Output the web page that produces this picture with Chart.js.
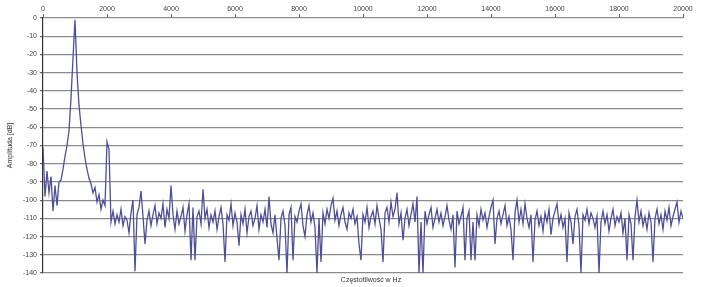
<!DOCTYPE html>
<html>
<head>
<meta charset="utf-8">
<script src="https://cdn.jsdelivr.net/npm/chart.js@4/dist/chart.umd.min.js"></script>
<style>
  html, body { margin: 0; padding: 0; background: #fff; }
  #wrap { width: 705px; height: 287px; }
</style>
</head>
<body>
<div id="wrap"><canvas id="spectrum"></canvas></div>
<script>
// FFT bins, 62.5 Hz apart, 0 .. 20000 Hz
const binWidth = 62.5;
const amplitudes = [
  -71, -98, -84, -96, -87, -106, -92, -103, -90, -89,
  -83, -76, -70, -62, -44, -22, -1, -30, -48, -59,
  -69, -77, -83, -88, -91, -96, -93, -101, -97, -105,
  -100, -103, -68, -72, -112, -106, -113, -108, -112, -105,
  -114, -109, -111, -118, -107, -100, -139, -108, -104, -95,
  -109, -124, -111, -106, -114, -108, -103, -113, -107, -110,
  -102, -115, -105, -110, -92, -108, -116, -106, -113, -109,
  -104, -117, -108, -102, -133, -104, -133, -109, -106, -113,
  -94, -110, -105, -115, -108, -112, -106, -116, -109, -104,
  -113, -134, -108, -111, -102, -114, -107, -112, -125, -108,
  -113, -105, -118, -109, -106, -114, -110, -103, -116, -108,
  -112, -105, -115, -98, -113, -118, -108, -121, -133, -110,
  -106, -114, -140, -108, -104, -133, -109, -112, -106, -102,
  -114, -120, -108, -103, -112, -107, -115, -140, -110, -134,
  -107, -113, -105, -110, -103, -99, -111, -106, -114, -108,
  -104, -112, -116, -107, -110, -105, -113, -109, -124, -133,
  -108, -112, -104, -115, -109, -106, -113, -103, -110, -116,
  -134, -107, -104, -112, -101, -109, -105, -96, -113, -107,
  -122, -110, -105, -114, -108, -102, -112, -98, -140, -112,
  -140, -106, -113, -108, -104, -115, -110, -105, -112, -107,
  -114, -109, -103, -111, -116, -108, -137, -106, -113, -109,
  -104, -133, -110, -106, -133, -112, -133, -108, -114, -105,
  -111, -107, -115, -109, -104, -100, -124, -110, -106, -113,
  -108, -103, -114, -109, -116, -133, -107, -100, -112, -105,
  -113, -102, -110, -115, -108, -134, -111, -106, -114, -109,
  -117, -107, -112, -105, -119, -110, -106, -102, -113, -108,
  -115, -110, -134, -107, -112, -124, -109, -105, -114, -140,
  -108, -111, -105, -113, -107, -110, -115, -109, -140, -112,
  -106, -113, -108, -117, -110, -105, -114, -109, -112, -107,
  -118, -110, -133, -108, -113, -133, -109, -100, -112, -106,
  -114, -109, -116, -107, -112, -134, -110, -105, -113, -108,
  -116, -106, -111, -104, -114, -109, -105, -101, -112, -106,
  -110
];
const freqTicks = [0, 2000, 4000, 6000, 8000, 10000, 12000, 14000, 16000, 18000, 20000];
const dbTicks = [0, -10, -20, -30, -40, -50, -60, -70, -80, -90, -100, -110, -120, -130, -140];

const points = amplitudes.map((a, i) => ({ x: i * binWidth, y: a }));

const fontFamily = '"Liberation Sans", Arial, sans-serif';

const bottomTitle = {
  id: 'bottomTitle',
  afterDraw(chart) {
    const ctx = chart.ctx;
    const area = chart.chartArea;
    ctx.save();
    ctx.font = '7px ' + fontFamily;
    ctx.fillStyle = '#333';
    ctx.textAlign = 'center';
    ctx.textBaseline = 'middle';
    ctx.fillText('Częstotliwość w Hz', (area.left + area.right) / 2 + 8, area.bottom + 7);
    ctx.restore();
  }
};

new Chart(document.getElementById('spectrum'), {
  type: 'line',
  data: {
    datasets: [{
      data: points,
      borderColor: '#4f4f98',
      borderWidth: 1.3,
      pointRadius: 0,
      tension: 0,
      fill: false
    }]
  },
  options: {
    responsive: true,
    maintainAspectRatio: false,
    animation: false,
    layout: { padding: { left: 0, top: 0, right: 22, bottom: 14 } },
    plugins: {
      legend: { display: false },
      tooltip: { enabled: false }
    },
    scales: {
      x: {
        type: 'linear',
        position: 'top',
        min: 0,
        max: 20000,
        afterFit: s => { s.height = 18; },
        afterBuildTicks: s => { s.ticks = freqTicks.map(v => ({ value: v })); },
        ticks: {
          callback: v => String(v),
          font: { family: fontFamily, size: 7 },
          color: '#444',
          padding: 1,
          maxRotation: 0
        },
        grid: {
          drawOnChartArea: false,
          drawTicks: true,
          tickLength: 4,
          color: '#666'
        },
        border: { display: false }
      },
      y: {
        min: -140,
        max: 0,
        afterFit: s => { s.width = 43; },
        afterBuildTicks: s => { s.ticks = dbTicks.map(v => ({ value: v })); },
        ticks: {
          font: { family: fontFamily, size: 7 },
          color: '#444',
          padding: 3
        },
        grid: {
          color: '#8c8c8c',
          lineWidth: 1.2,
          tickLength: 3,
          tickColor: '#666'
        },
        border: { display: true, color: '#333', width: 1.2 },
        title: {
          display: true,
          text: 'Amplituda [dB]',
          font: { family: fontFamily, size: 7 },
          color: '#333',
          padding: { top: 6, bottom: 0 }
        }
      }
    }
  },
  plugins: [bottomTitle]
});
</script>
</body>
</html>
